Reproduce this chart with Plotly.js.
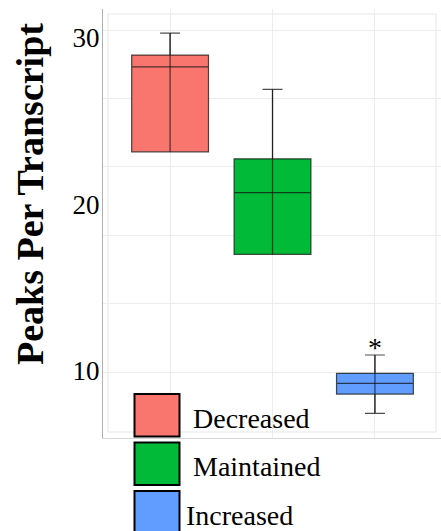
<!DOCTYPE html>
<html>
<head>
<meta charset="utf-8">
<script src="https://cdn.plot.ly/plotly-3.0.1.min.js"></script>
<style>html,body{margin:0;padding:0;background:#fff;}#chart{width:441px;height:531px;}</style>
</head>
<body>
<div id="chart"></div>
<script>
// ---- data ----
var categories = ['Decreased', 'Maintained', 'Increased'];
var lowerWhisker = [23.13, 16.99, 7.47];
var q1Values = [23.13, 16.99, 8.62];
var medianValues = [28.22, 20.68, 9.26];
var q3Values = [28.92, 22.71, 9.86];
var upperWhisker = [30.24, 26.87, 10.96];
var boxColors = ['#F8766D', '#00BA38', '#619CFF'];
var legendLabels = ['\u00a0Decreased', '\u00a0Maintained', 'Increased'];
var yTickVals = [10, 20, 30];
var yTickText = ['10', '20', '30'];
var gridVals = [9.92, 14.02, 18.12, 22.22, 26.32, 30.42];
var yTitle = 'Peaks Per Transcript';
var markerText = '*';
var markerCategory = 'Increased';
var markerY = 11.4;

// ---- layout helpers (pixel -> paper) ----
var W = 441, H = 531, L = 103, R = 0, T = 9, B = 93;
var PW = W - L - R, PH = H - T - B;
function px(X) { return (X - L) / PW; }
function py(Y) { return (H - B - Y) / PH; }

var serif = 'Liberation Serif, Times New Roman, serif';
var edge = 'rgba(20,20,20,0.75)';

var traces = [];
categories.forEach(function (c, i) {
  traces.push({
    type: 'box',
    name: c,
    x: [c],
    q1: [q1Values[i]],
    median: [medianValues[i]],
    q3: [q3Values[i]],
    lowerfence: [lowerWhisker[i]],
    upperfence: [upperWhisker[i]],
    fillcolor: boxColors[i],
    line: { color: edge, width: 1.2 },
    width: 0.75,
    whiskerwidth: 0.26,
    boxpoints: false,
    showlegend: false,
    hoverinfo: 'skip'
  });
});
// whisker line running through each box (as in the original)
categories.forEach(function (c, i) {
  traces.push({
    type: 'scatter', mode: 'lines',
    x: [c, c], y: [lowerWhisker[i], upperWhisker[i]],
    line: { color: edge, width: 1.2 },
    showlegend: false, hoverinfo: 'skip'
  });
});

var shapes = [{
  type: 'rect', xref: 'paper', yref: 'paper',
  x0: px(108), x1: px(436), y0: py(432), y1: py(14),
  line: { color: '#e6e6e6', width: 1 }, fillcolor: 'rgba(0,0,0,0)', layer: 'below'
}];
var annotations = [];

// legend keys built from the categories
var keyTop = 394, keyPitch = 48.5, keyH = 42.5, keyX0 = 134.5, keyX1 = 179.5, labelX = 184;
categories.forEach(function (c, i) {
  var top = keyTop + i * keyPitch;
  shapes.push({
    type: 'rect', xref: 'paper', yref: 'paper',
    x0: px(keyX0), x1: px(keyX1), y0: py(top + keyH), y1: py(top),
    fillcolor: boxColors[i], line: { color: '#000', width: 2 }, layer: 'above'
  });
  annotations.push({
    xref: 'paper', yref: 'paper', x: px(labelX), y: py(top + keyH / 2 + 3),
    xanchor: 'left', yanchor: 'middle', showarrow: false,
    text: legendLabels[i], font: { family: serif, size: 28, color: '#000' }
  });
});

// y title
annotations.push({
  xref: 'paper', yref: 'paper', x: px(30), y: py(194),
  xanchor: 'center', yanchor: 'middle', showarrow: false, textangle: -90,
  text: '<b>' + yTitle + '</b>', font: { family: serif, size: 38, color: '#000' }
});
// significance marker
annotations.push({
  xref: 'x', yref: 'y', x: markerCategory, y: markerY,
  xanchor: 'center', yanchor: 'middle', showarrow: false,
  text: markerText, font: { family: serif, size: 28, color: '#000' }
});

var layout = {
  width: W, height: H,
  margin: { l: L, r: R, t: T, b: B, pad: 0 },
  paper_bgcolor: '#fff', plot_bgcolor: '#fff',
  boxmode: 'overlay',
  showlegend: false,
  xaxis: {
    type: 'category', categoryorder: 'array', categoryarray: categories,
    range: [-0.655, 2.645],
    showticklabels: false, ticks: '',
    showgrid: true, gridcolor: '#ececec', gridwidth: 1,
    zeroline: false, showline: true, linecolor: '#d6d6d6', linewidth: 1
  },
  yaxis: {
    range: [5.99, 31.68],
    tickmode: 'array', tickvals: yTickVals, ticktext: yTickText,
    tickfont: { family: serif, size: 27, color: '#000' },
    ticks: '', ticklabelstandoff: -3,
    showgrid: false, zeroline: false,
    showline: true, linecolor: '#b0b0b0', linewidth: 1,
    minor: { tickmode: 'array', tickvals: gridVals, showgrid: true, gridcolor: '#ececec', gridwidth: 1, ticks: '' }
  },
  shapes: shapes,
  annotations: annotations,
  font: { family: serif, color: '#000' }
};

Plotly.newPlot('chart', traces, layout, { displayModeBar: false, staticPlot: true });
</script>
</body>
</html>
